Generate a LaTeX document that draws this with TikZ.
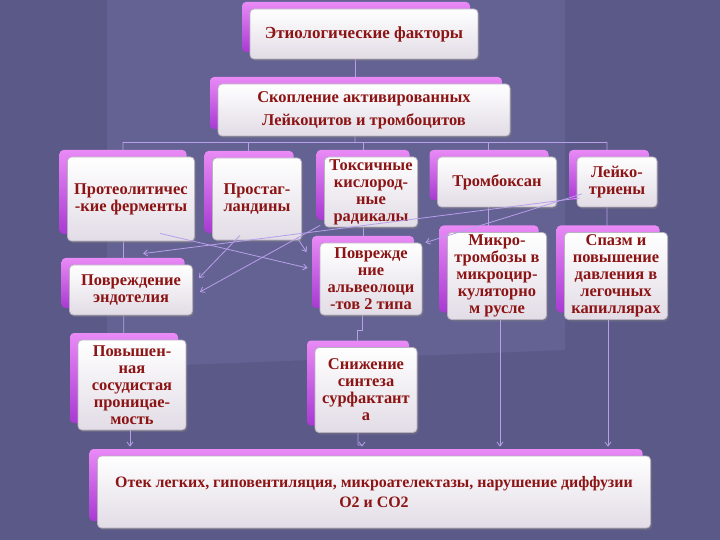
\documentclass[tikz,border=0pt]{standalone}
\usepackage{fontspec}
\setmainfont{Liberation Serif}
\usetikzlibrary{shadows,arrows.meta}
\pgfdeclarelayer{back}
\pgfdeclarelayer{wires}
\pgfsetlayers{back,wires,main}
\definecolor{bgdark}{HTML}{5B5987}
\definecolor{bglight}{HTML}{636293}
\definecolor{magtop}{HTML}{E98AF6}
\definecolor{magbot}{HTML}{A83AD2}
\definecolor{cardbot}{HTML}{E2DCE6}
\definecolor{cardedge}{HTML}{B9B1C0}
\definecolor{rust}{HTML}{8C1414}
\definecolor{wirecol}{HTML}{B89FEA}
\tikzset{
  card/.style={general shadow={top color=magtop, bottom color=magbot, shadow xshift=-8bp, shadow yshift=7bp},
    drop shadow={shadow xshift=1.5bp, shadow yshift=-2bp, opacity=.4},
    rounded corners=4bp, draw=cardedge, line width=0.8bp, top color=white, bottom color=cardbot,
    text=rust, font=\bfseries\fontsize{16.5}{17}\selectfont, align=center, inner sep=1bp},
  wire/.style={draw=wirecol, line width=0.8bp},
  tip/.style={wire, -{Straight Barb[length=4bp,width=6bp]}}
}
\begin{document}
\begin{tikzpicture}[x=1bp, y=-1bp]
\useasboundingbox (0,0) rectangle (720,540);
\begin{pgfonlayer}{back}
\fill[bgdark] (0,0) rectangle (720,540);
\fill[bglight] (107,0) -- (565,0) -- (565,350) -- (107,368) -- cycle;
\end{pgfonlayer}
% top of the tree
\node[card, minimum width=228bp, minimum height=50bp, font=\bfseries\fontsize{17}{18}\selectfont] (fa) at (364,34) {Этиологические факторы};
\node[card, minimum width=292bp, minimum height=52bp, font=\bfseries\fontsize{16.5}{23}\selectfont] (sk) at (364,110) {Скопление активированных\\Лейкоцитов и тромбоцитов};
% first row
\node[card, minimum width=127bp, minimum height=84bp] (p1) at (131,199) {Протеолитичес\\-кие ферменты};
\node[card, minimum width=89bp, minimum height=82bp] (p2) at (257,199) {Простаг-\\ландины};
\node[card, minimum width=93bp, minimum height=70bp] (p3) at (371,192) {Токсичные\\кислород-\\ные\\радикалы};
\node[card, minimum width=119bp, minimum height=50bp] (p4) at (497,182) {Тромбоксан};
\node[card, minimum width=80bp, minimum height=50bp] (p5) at (617,182) {Лейко-\\триены};
% second row
\node[card, minimum width=123bp, minimum height=50bp] (d1) at (131,290) {Повреждение\\эндотелия};
\node[card, minimum width=102bp, minimum height=72bp] (d2) at (371,279) {Поврежде\\ние\\альвеолоци\\-тов 2 типа};
\node[card, minimum width=99bp, minimum height=87bp] (d3) at (497,276) {Микро-\\тромбозы в\\микроцир-\\куляторно\\м русле};
\node[card, minimum width=103bp, minimum height=87bp] (d4) at (616,276) {Спазм и\\повышение\\давления в\\легочных\\капиллярах};
% third row
\node[card, minimum width=108bp, minimum height=90bp] (e1) at (132,385) {Повышен-\\ная\\сосудистая\\проницае-\\мость};
\node[card, minimum width=102bp, minimum height=85bp] (e2) at (366,390) {Снижение\\синтеза\\сурфактант\\а};
% result
\node[card, minimum width=553bp, minimum height=72bp, font=\bfseries\fontsize{16}{20}\selectfont] (f) at (374,492) {Отек легких, гиповентиляция, микроателектазы, нарушение диффузии\\О2 и СО2};
% tree lines under the cards
\begin{pgfonlayer}{wires}
\coordinate (bus) at (355,142);
\draw[wire] ([xshift=-9bp]fa.center) -- ([xshift=-9bp]sk.center);
\draw[wire] ([xshift=-9bp]sk.center) -- (bus);
\draw[wire] ([xshift=-8bp]p1.center |- bus) -- ([xshift=-10bp]p5.center |- bus);
\draw[wire] ([xshift=-8bp]p1.center |- bus) -- ([xshift=-8bp]e1.center);
\draw[wire] ([xshift=-9bp]p2.center |- bus) -- ([xshift=-9bp]p2.center);
\draw[wire] ([xshift=-8bp]p3.center |- bus) -- ([xshift=-8bp]d2.center);
\draw[wire] ([xshift=-9bp]p4.center |- bus) -- ([xshift=-9bp]d3.center);
\draw[wire] ([xshift=-10bp]p5.center |- bus) -- ([xshift=-9bp]d4.center);
\draw[wire] ([xshift=-9bp]d2.south) -- ++(0,15) -- ++(-5,0) -- ([xshift=-9bp]e2.center);
\end{pgfonlayer}
% arrows into the result
\draw[tip, shorten >=9bp] ([xshift=-2bp]e1.south) -- ([xshift=-2bp]e1.south |- f.north);
\draw[tip, shorten >=9bp] ([xshift=-8bp]e2.south) -- ++(0,12) -- ++(4,0) -- ([xshift=-4bp]e2.south |- f.north);
\draw[tip, shorten >=9bp] ([xshift=3bp]d3.south) -- ([xshift=3bp]d3.south |- f.north);
\draw[tip, shorten >=9bp] ([xshift=-8bp]d4.south) -- ([xshift=-8bp]d4.south |- f.north);
% cross links
\draw[tip] ([xshift=29bp,yshift=8bp]p1.south) -- ([xshift=-12bp,yshift=11bp]d2.west);
\draw[tip] ([xshift=-17bp,yshift=5bp]p2.south) -- ([xshift=6bp,yshift=12bp]d1.east);
\draw[tip] ([xshift=-5bp,yshift=3bp]p2.south east) -- ([xshift=-13bp,yshift=27bp]d2.west);
\draw[tip] ([xshift=-4bp,yshift=2bp]p3.south west) -- ([xshift=7bp,yshift=-2bp]d1.east);
\draw[tip] ([xshift=3bp,yshift=-16bp]p5.west) -- ([xshift=12bp,yshift=11bp]d1.north);
\draw[tip] ([xshift=5bp,yshift=-12bp]p5.west) -- ([xshift=3bp]d2.north east);
\end{tikzpicture}
\end{document}
